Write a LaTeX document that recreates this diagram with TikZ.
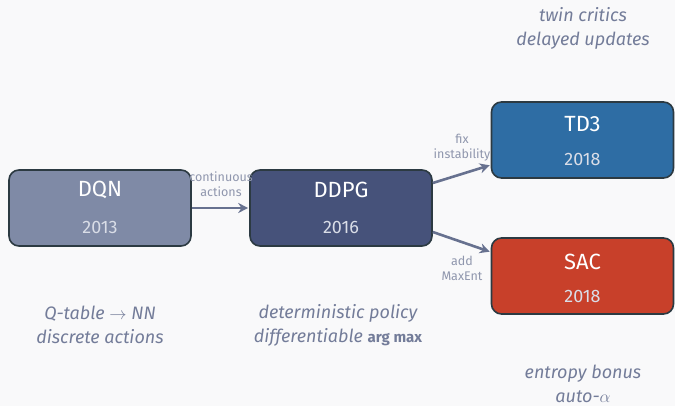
\documentclass[tikz,border=0pt]{standalone}
\usepackage{fontspec}
\setmainfont{Fira Sans}
\usetikzlibrary{arrows.meta}
\definecolor{bg}{HTML}{F9F9FA}
\definecolor{edge}{HTML}{2C3A42}
\definecolor{cdqn}{HTML}{7F8AA6}
\definecolor{cddpg}{HTML}{46527A}
\definecolor{ctd}{HTML}{2E6DA4}
\definecolor{csac}{HTML}{C8402A}
\definecolor{link}{HTML}{67718F}
\definecolor{note}{HTML}{737C99}
\definecolor{yr}{HTML}{D9DDE7}
\tikzset{
  algo/.style={draw=edge, line width=1.6pt, rounded corners=10pt,
    minimum width=182pt, minimum height=76pt, inner sep=0pt},
  title/.style={text=white, font=\fontsize{22}{24}\selectfont},
  year/.style={text=yr, font=\fontsize{18}{20}\selectfont},
  flow/.style={draw=link, line width=2.6pt, -{Stealth[length=10pt,width=10pt]}, shorten >=1pt},
  tag/.style={text=note!80, font=\fontsize{12.5}{15}\selectfont, align=center},
  remark/.style={text=note, font=\fontsize{18}{24}\selectfont\itshape, align=center},
}
\begin{document}
\begin{tikzpicture}[x=1pt,y=-1pt]
  \fill[bg] (0,0) rectangle (675,406);
  \useasboundingbox (0,0) rectangle (675,406);

  % algorithm boxes
  \node[algo, fill=cdqn]  (dqn)  at (100,208) {};
  \node[algo, fill=cddpg] (ddpg) at (341,208) {};
  \node[algo, fill=ctd]   (td3)  at (582.5,140) {};
  \node[algo, fill=csac]  (sac)  at (582.5,276) {};

  \node[title] at (100,190) {DQN};
  \node[year]  at (100,227) {2013};
  \node[title] at (341,190) {DDPG};
  \node[year]  at (341,227) {2016};
  \node[title] at (582.5,124) {TD3};
  \node[year]  at (582.5,159) {2018};
  \node[title] at (582.5,262) {SAC};
  \node[year]  at (582.5,296) {2018};

  % connectors (yshift is in page direction: positive is up)
  \coordinate (d1) at ([yshift=25pt]ddpg.east);
  \coordinate (d2) at ([yshift=-24pt]ddpg.east);
  \coordinate (t1) at ([yshift=-25pt]td3.west);
  \coordinate (s1) at ([yshift=24pt]sac.west);
  \draw[flow] (dqn.east) -- (ddpg.west);
  \draw[flow] (d1) -- (t1);
  \draw[flow] (d2) -- (s1);

  \node[tag] at (221,184) {continuous\\actions};
  \node[tag] at (462,148) {fix\\instability};
  \node[tag] at (462,268) {add\\MaxEnt};

  % notes
  \node[remark] at (100,325) {Q-table $\rightarrow$ NN\\discrete actions};
  \node[remark] at (338,325) {deterministic policy\\differentiable {\upshape\bfseries\fontsize{15}{17}\selectfont arg max}};
  \node[remark] at (583,28) {twin critics\\delayed updates};
  \node[remark] at (583,384) {entropy bonus\\auto-$\alpha$};
\end{tikzpicture}
\end{document}
